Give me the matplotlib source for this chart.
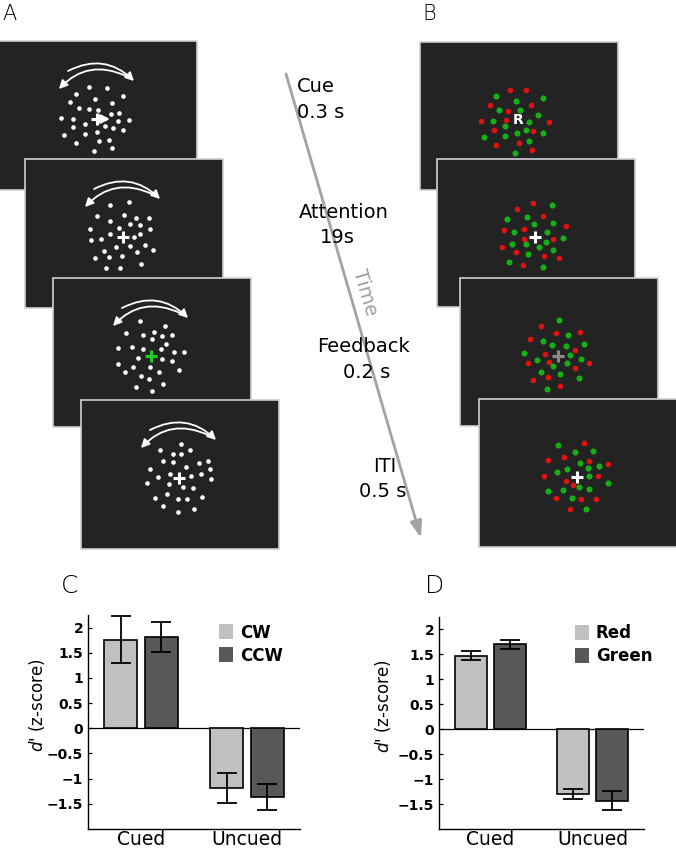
import numpy as np
import matplotlib.pyplot as plt
from matplotlib.patches import Rectangle, Patch

# ---- bar data (d' z-scores) ----
groups = ['Cued', 'Uncued']
cw = [1.76, -1.19]
cw_err = [0.47, 0.30]
ccw = [1.81, -1.37]
ccw_err = [0.30, 0.26]
red = [1.47, -1.30]
red_err = [0.09, 0.10]
green = [1.70, -1.43]
green_err = [0.09, 0.19]
yticks = [2, 1.5, 1, 0.5, 0, -0.5, -1, -1.5]
ytick_labels = ['2', '1.5', '1', '0.5', '0', '\u22120.5', '\u22121', '\u22121.5']

# ---- trial timeline ----
phases = ['Cue', 'Attention', 'Feedback', 'ITI']
durations = ['0.3 s', '19s', '0.2 s', '0.5 s']

# ---- dot offsets from fixation (px) ----
A1_dx = [-8, 10, -21, 26, -2, -27, 15, -18, -8, 1, 14, 22, -36, -24, -12, 8, 21, 32, -24, 16, 26, -33, -12, 0, -21, 2, 12, -3, 15]
A1_dy = [-32, -31, -25, -23, -20, -17, -16, -11, -10, -9, -5, -6, -1, 0, 5, 7, 2, 1, 8, 9, 11, 16, 15, 13, 24, 22, 21, 32, 29]
A2_dx = [-13, 6, -26, -13, 1, 13, 26, 7, 17, -4, 27, -33, -22, -32, -13, 11, 17, -7, 7, 22, 30, -19, 14, -28, -14, -1, -17, -3, 18]
A2_dy = [-32, -35, -21, -16, -22, -19, -19, -13, -12, -9, -8, -8, 2, 3, -3, 0, -3, 10, 9, 8, 13, 14, 15, 21, 20, 19, 31, 31, 27]
A3_dx = [-11, 14, -25, -8, 3, 11, 21, 1, 15, -33, -19, -8, 10, 23, 33, -13, 11, 21, -33, -18, -1, -26, 8, 28, -10, -2, 12, -15, 1]
A3_dy = [-35, -30, -23, -21, -24, -20, -21, -17, -12, -8, -9, -7, -7, -4, -4, 2, 3, 5, 8, 11, 11, 16, 16, 14, 20, 23, 28, 31, 35]
A4_dx = [2, -19, -6, 2, 11, -16, -6, 7, 20, 29, -29, 31, -21, -9, 12, 22, 32, -32, -10, 4, 14, -12, -24, -1, 8, 23, -16, -1, 15]
A4_dy = [-34, -28, -24, -24, -28, -17, -16, -11, -15, -17, -9, -9, -1, -4, -2, -4, 1, 5, 6, 9, 10, 16, 20, 21, 21, 19, 28, 34, 31]

B1r_dx = [-8, 8, -28, 13, -10, -37, -12, 31, -24, 15, -22, 1, 14]
B1r_dy = [-30, -30, -15, -15, -9, 1, 0, 2, 10, 11, 25, 23, 30]
B1g_dx = [-22, -2, 25, -19, 2, 20, -25, 11, -13, 8, -1, 25, -34, -13, 11, -3]
B1g_dy = [-24, -19, -22, -10, -10, -5, 1, 2, 6, 10, 13, 13, 17, 16, 21, 33]
B2r_dx = [-2, -18, 8, -31, -11, 31, -11, 18, -33, -19, 9, 24, -12]
B2r_dy = [-34, -28, -21, -7, -8, -11, 2, 2, 10, 15, 19, 21, 28]
B2g_dx = [17, -28, -8, 18, -1, -21, 12, 28, -23, -9, 11, 4, 18, -7, -26, 8]
B2g_dy = [-32, -18, -20, -14, -13, -5, -5, 1, 7, 7, 5, 10, 13, 17, 25, 30]
B3r_dx = [-17, -2, 22, -28, 17, -13, -30, -9, 17, 31, -10, -25, 2]
B3r_dy = [-30, -23, -24, -17, -6, -2, 7, 6, 12, 7, 21, 24, 30]
B3g_dx = [1, 10, -15, -6, 26, 8, -34, 12, -21, 23, -5, 9, -17, 2, 21, -11]
B3g_dy = [-36, -21, -15, -11, -12, -10, -3, -1, 4, 3, 10, 7, 16, 18, 22, 33]
B4r_dx = [7, -29, -13, 12, 31, -33, 21, -11, -4, -21, 4, 19, -7]
B4r_dy = [-34, -17, -20, -16, -13, -1, -1, 4, 8, 21, 22, 22, 32]
B4g_dx = [-19, -2, 16, 3, -20, -10, 11, 22, 12, 31, -29, -14, 2, 12, -5, 9]
B4g_dy = [-32, -25, -26, -14, -5, -8, -9, -11, -1, 6, 14, 13, 10, 12, 21, 32]

SCREEN = '#232323'
EDGE = '#d0d0d0'
DOT_R = '#e31212'
DOT_G = '#14b014'

fig = plt.figure(figsize=(6.76, 8.52), dpi=100)
ax = fig.add_axes([0, 0, 1, 1])
ax.set_xlim(0, 676)
ax.set_ylim(852, 0)
ax.axis('off')


def draw_screen(x, y, w, h, z):
    ax.add_patch(Rectangle((x, y), w, h, facecolor=SCREEN, edgecolor=EDGE, lw=1.2, zorder=z))
    return x + 98, y + 78


def fix_cross(fx, fy, color, z):
    ax.plot([fx], [fy], marker='+', ms=9, mew=2.2, color=color, zorder=z)


def arcs(fx, fy, z):
    ax.annotate('', xy=(fx + 37, fy - 38), xytext=(fx - 29, fy - 48),
                arrowprops=dict(arrowstyle='-|>,head_length=0.5,head_width=0.25', color='white',
                                lw=1.3, shrinkA=0, shrinkB=0, connectionstyle='arc3,rad=-0.36'),
                zorder=z)
    ax.annotate('', xy=(fx - 38, fy - 30), xytext=(fx + 29, fy - 43),
                arrowprops=dict(arrowstyle='-|>,head_length=0.5,head_width=0.25', color='white',
                                lw=1.3, shrinkA=0, shrinkB=0, connectionstyle='arc3,rad=0.36'),
                zorder=z)


# panel A: motion direction task
a_screens = [(-1, 41), (25, 159), (53, 278), (81, 400)]
a_dots = [(A1_dx, A1_dy), (A2_dx, A2_dy), (A3_dx, A3_dy), (A4_dx, A4_dy)]
a_fix = ['white', 'white', '#22cc22', 'white']
for i, ((sx, sy), (dx, dy)) in enumerate(zip(a_screens, a_dots)):
    z = 2 + 3 * i
    fx, fy = draw_screen(sx, sy, 198, 149, z)
    ax.scatter(fx + np.array(dx), fy + np.array(dy), s=11, color='white', lw=0, zorder=z + 1)
    arcs(fx, fy, z + 1)
    fix_cross(fx, fy, a_fix[i], z + 2)
    if i == 0:
        ax.annotate('', xy=(fx + 13, fy), xytext=(fx, fy),
                    arrowprops=dict(arrowstyle='-|>,head_length=0.5,head_width=0.25', color='white',
                                    lw=1.8, shrinkA=0, shrinkB=0), zorder=z + 2)

# panel B: colour task
b_screens = [(420, 42), (437, 159), (460, 278), (479, 399)]
b_dots = [(B1r_dx, B1r_dy, B1g_dx, B1g_dy), (B2r_dx, B2r_dy, B2g_dx, B2g_dy),
          (B3r_dx, B3r_dy, B3g_dx, B3g_dy), (B4r_dx, B4r_dy, B4g_dx, B4g_dy)]
b_fix = [None, 'white', '#8a8a8a', 'white']
for i, ((sx, sy), (rdx, rdy, gdx, gdy)) in enumerate(zip(b_screens, b_dots)):
    z = 20 + 3 * i
    fx, fy = draw_screen(sx, sy, 198, 148, z)
    ax.scatter(fx + np.array(rdx), fy + np.array(rdy), s=16, color=DOT_R, lw=0, zorder=z + 1)
    ax.scatter(fx + np.array(gdx), fy + np.array(gdy), s=19, color=DOT_G, lw=0, zorder=z + 1)
    if b_fix[i] is None:
        ax.text(fx, fy, 'R', color='white', fontsize=10, fontweight='bold',
                ha='center', va='center', zorder=z + 2)
    else:
        fix_cross(fx, fy, b_fix[i], z + 2)

# time arrow
ax.annotate('', xy=(421, 538), xytext=(286, 74),
            arrowprops=dict(arrowstyle='-|>,head_length=1.0,head_width=0.35', color='#a3a3a3',
                            lw=2, shrinkA=0, shrinkB=0), zorder=40)
ax.text(365, 292, 'Time', color='#a0a0a0', fontsize=14, rotation=-73.9,
        rotation_mode='anchor', ha='center', va='center', zorder=41)

phase_pos = [(297, 92), (299, 218), (317, 352), (373, 472)]
dur_pos = [(297, 118), (320, 243), (343, 378), (359, 497)]
for name, (px, py) in zip(phases, phase_pos):
    ax.text(px, py, name, fontsize=14, ha='left', va='baseline', zorder=42)
for d, (px, py) in zip(durations, dur_pos):
    ax.text(px, py, d, fontsize=14, ha='left', va='baseline', zorder=42)

# panel letters
for lab, (px, py, fs) in zip('ABCD', [(2, 20, 15), (422, 20, 15), (61, 593, 18), (425, 593, 18)]):
    ax.text(px, py, lab, fontsize=fs, fontweight='light', ha='left', va='baseline')


def bar_panel(rect, a, a_err, b, b_err, names, leg_anchor, ylab_x):
    bx = fig.add_axes(rect)
    x = np.arange(len(groups))
    ekw = dict(elinewidth=1.3, capthick=1.3, ecolor='black')
    bx.bar(x - 0.19, a, 0.31, yerr=a_err, color='#c0c0c0', edgecolor='black', lw=1.2,
           capsize=7.5, error_kw=ekw, zorder=3)
    bx.bar(x + 0.19, b, 0.31, yerr=b_err, color='#585858', edgecolor='black', lw=1.2,
           capsize=7.5, error_kw=ekw, zorder=3)
    bx.axhline(0, color='black', lw=0.9, zorder=2)
    bx.set_xlim(-0.5, 1.5)
    bx.set_ylim(-2, 2.25)
    for s in ['top', 'right']:
        bx.spines[s].set_visible(False)
    bx.spines['left'].set_linewidth(1.0)
    bx.spines['bottom'].set_linewidth(1.0)
    bx.set_yticks(yticks, ytick_labels)
    bx.tick_params(axis='y', direction='in', length=3, width=0.9, pad=3.5, labelsize=10)
    for t in bx.get_yticklabels():
        t.set_fontweight('bold')
    bx.set_xticks(x, groups)
    bx.tick_params(axis='x', length=0, pad=1, labelsize=13.5)
    bx.set_ylabel("$d$' (z-score)", fontsize=12)
    bx.yaxis.set_label_coords(ylab_x, 0.58)
    handles = [Patch(facecolor='#c0c0c0', edgecolor='none'), Patch(facecolor='#585858', edgecolor='none')]
    bx.legend(handles, names, loc='upper left', bbox_to_anchor=leg_anchor, frameon=False,
              borderpad=0, borderaxespad=0, handlelength=0.85, handleheight=1.0,
              handletextpad=0.4, labelspacing=0.3, prop={'size': 12, 'weight': 'bold'})
    return bx


bar_panel([88 / 676, 23 / 852, 212 / 676, 214 / 852], cw, cw_err, ccw, ccw_err,
          ['CW', 'CCW'], (0.618, 0.96), -0.193)
bar_panel([439 / 676, 23 / 852, 205 / 676, 212 / 852], red, red_err, green, green_err,
          ['Red', 'Green'], (0.663, 0.966), -0.224)

fig.savefig('out.png', dpi=100)
